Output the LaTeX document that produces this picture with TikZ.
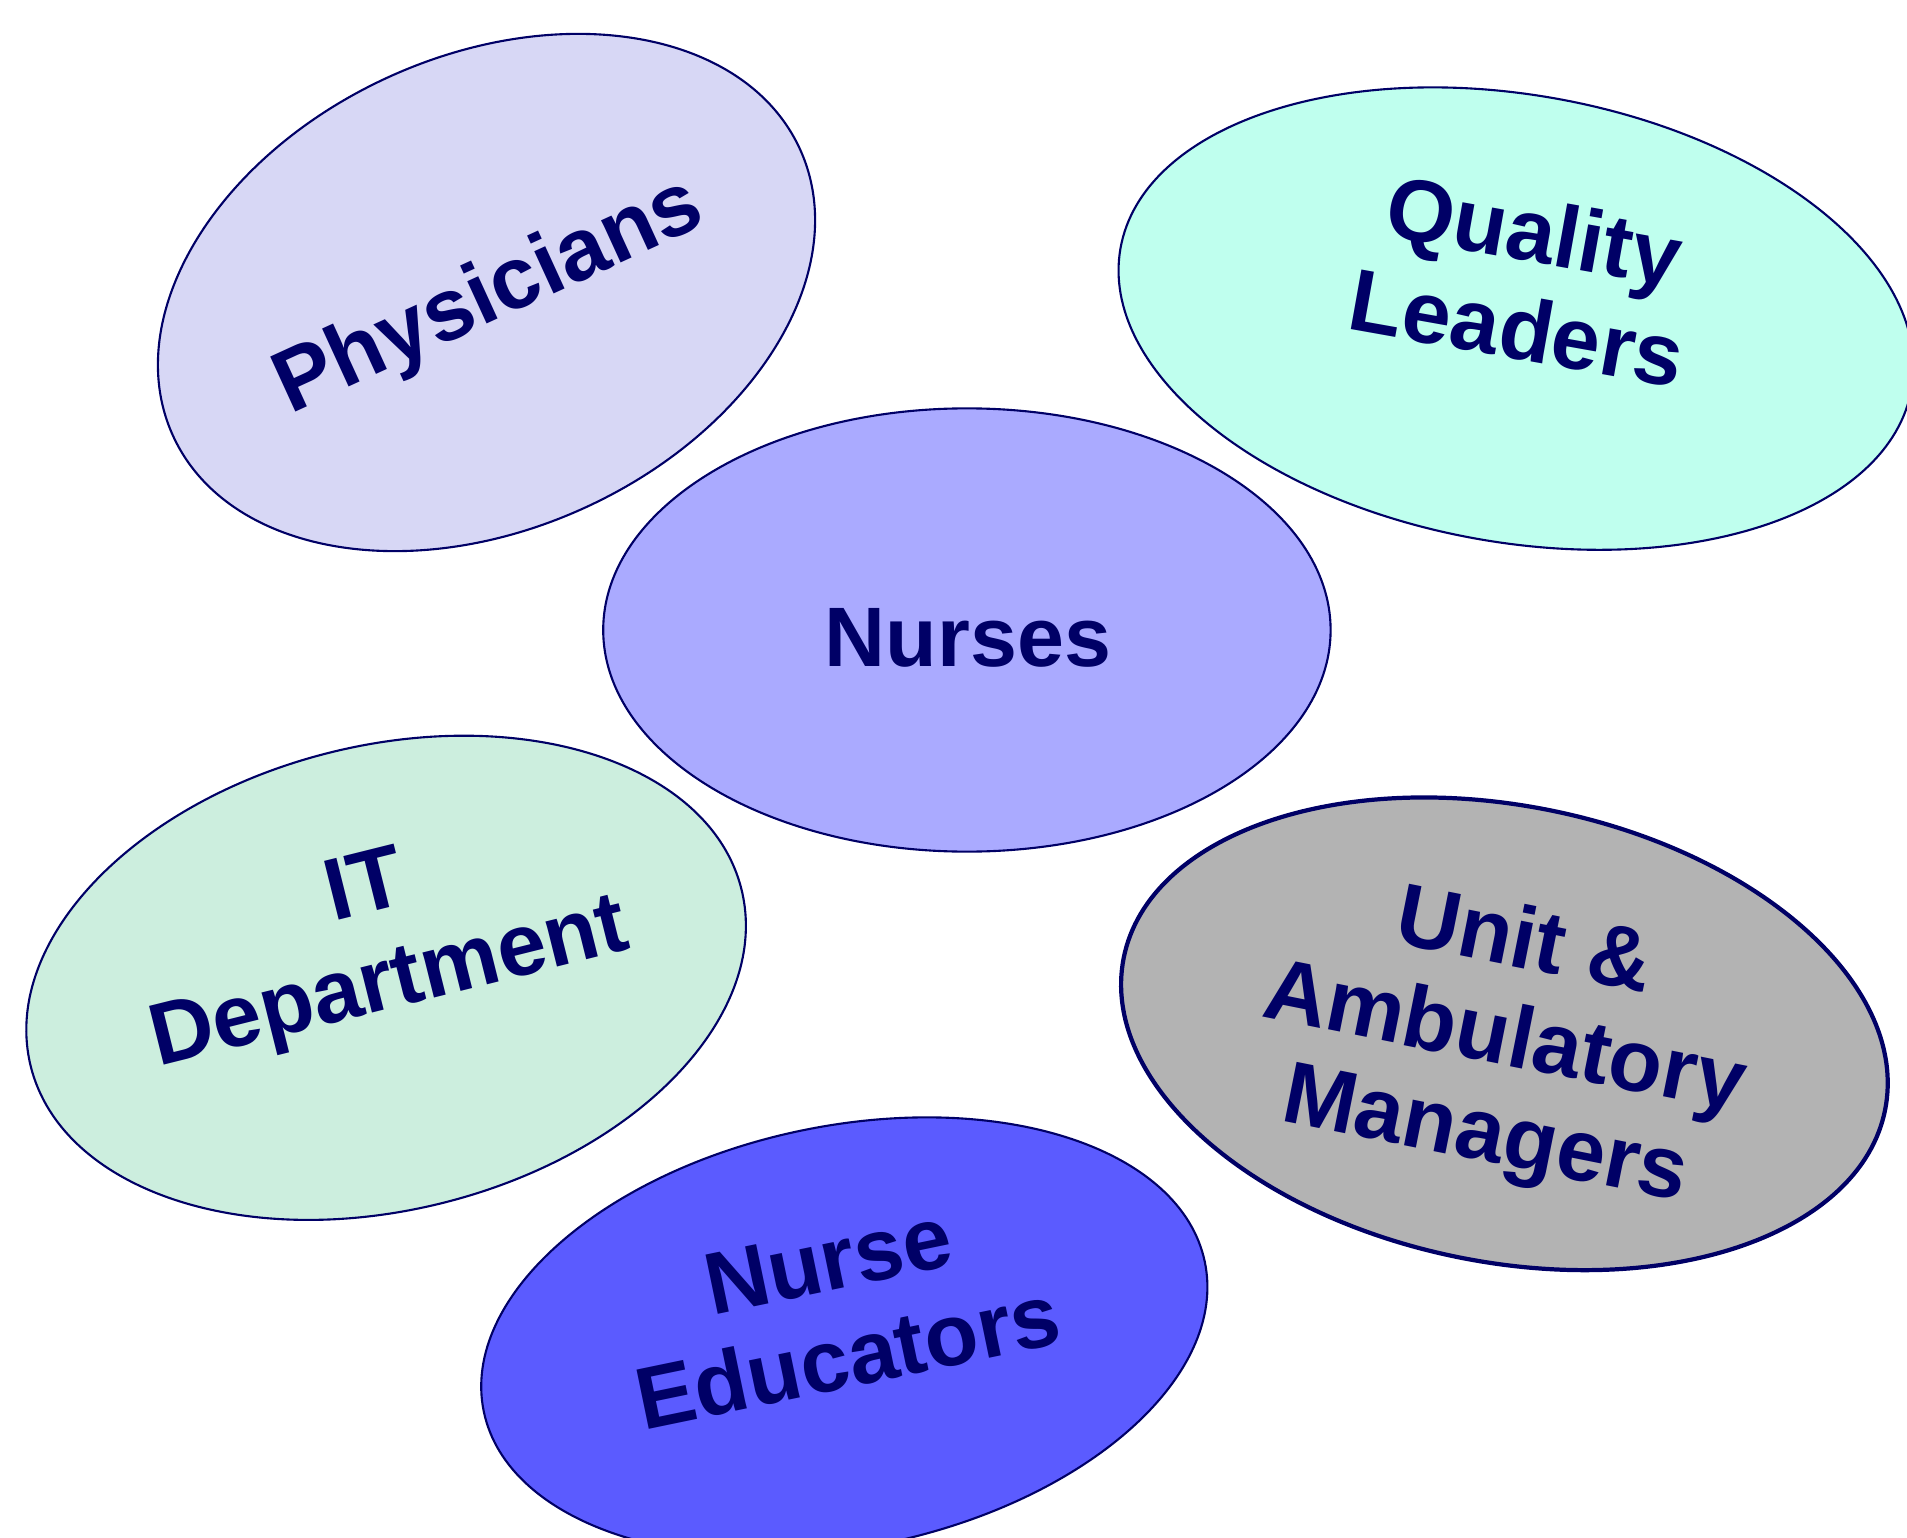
\documentclass[tikz,border=0pt]{standalone}
\usepackage{fontspec}
\setmainfont{Liberation Sans}
\usetikzlibrary{shapes.geometric}

\definecolor{navy}{HTML}{000066}
\definecolor{physfill}{HTML}{D7D7F5}
\definecolor{qualfill}{HTML}{BFFFEE}
\definecolor{nursefill}{HTML}{AAAAFF}
\definecolor{itfill}{HTML}{CCEEDE}
\definecolor{unitfill}{HTML}{B3B3B3}
\definecolor{edufill}{HTML}{5B5BFF}

\begin{document}
\begin{tikzpicture}[x=0.01cm, y=-0.01cm,
  blob/.style={ellipse, draw=navy, line width=0.6pt, inner sep=0pt},
  lbl/.style={text=navy, align=center, inner sep=0pt,
              font=\fontsize{25}{28}\selectfont\bfseries}]
  % page frame
  \useasboundingbox (0,0) rectangle (1907,1537);
  \clip (0,0) rectangle (1907,1537);

  % stakeholder groups
  \node[blob, fill=physfill, minimum width=6.89cm, minimum height=4.73cm, rotate=24.6]
    (phys) at (486.5,292.5) {};
  \node[blob, fill=qualfill, minimum width=8.03cm, minimum height=4.47cm, rotate=-10.1]
    (qual) at (1516,318.6) {};
  \node[blob, fill=nursefill, minimum width=7.27cm, minimum height=4.43cm]
    (nurse) at (966.9,630) {};
  \node[blob, fill=itfill, minimum width=7.32cm, minimum height=4.64cm, rotate=14]
    (it) at (386.1,977.8) {};
  \node[blob, fill=unitfill, line width=1.2pt, minimum width=7.76cm, minimum height=4.56cm, rotate=-11.3]
    (unit) at (1504.4,1033.8) {};
  \node[blob, fill=edufill, minimum width=7.36cm, minimum height=4.21cm, rotate=11.7]
    (edu) at (844.3,1336.75) {};

  % labels
  \node[lbl, rotate=24.6] (physT) at (490,298) {Physicians};
  \node[lbl, rotate=-10.1] (qualT) at (1526,279) {Quality\\Leaders};
  \node[lbl, font=\fontsize{24}{28}\selectfont\bfseries] (nurseT) at (968,638) {Nurses};
  \node[lbl, rotate=14] (itT) at (378,939) {IT\\Department};
  \node[lbl, rotate=-11.3] (unitT) at (1504,1042) {Unit \&\\Ambulatory\\Managers};
  \node[lbl, rotate=11.7] (eduT) at (838,1309) {Nurse\\Educators};
\end{tikzpicture}
\end{document}
